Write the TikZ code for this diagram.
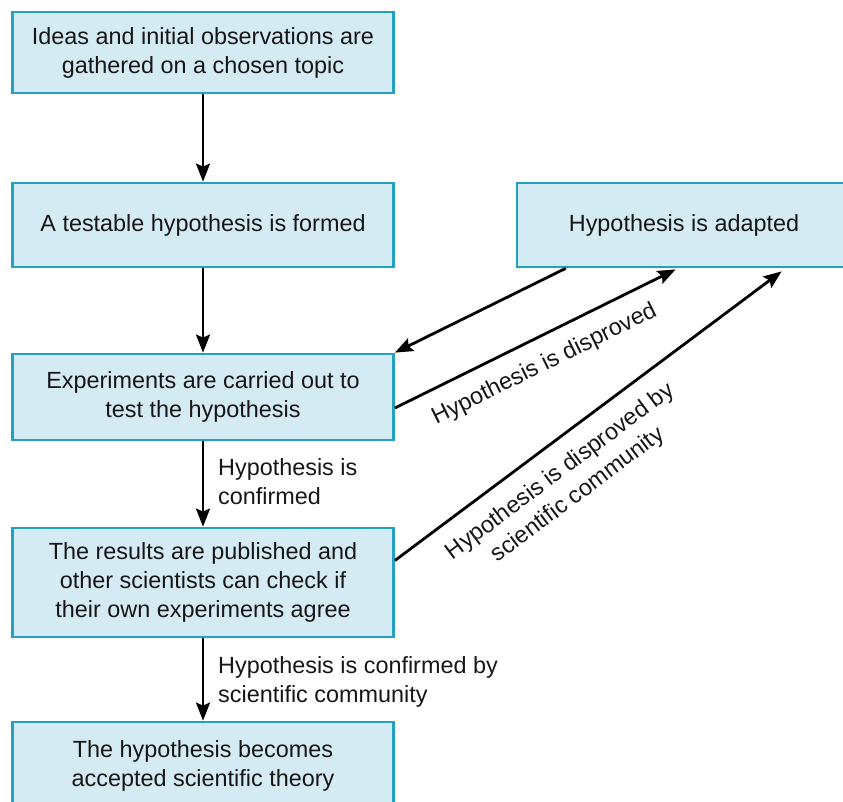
\documentclass[tikz,border=0pt]{standalone}
\usepackage{fontspec}
\setmainfont{Liberation Sans}
\usetikzlibrary{arrows.meta,calc}
\definecolor{boxfill}{RGB}{213,235,243}
\definecolor{boxline}{RGB}{34,162,190}
\definecolor{txt}{RGB}{22,22,22}
\begin{document}
\begin{tikzpicture}[x=1pt,y=-1pt,
  box/.style={draw=boxline, fill=boxfill, line width=2.8pt, minimum width=381pt, align=center, inner sep=0pt, text=txt, font=\fontsize{23.4}{29}\selectfont},
  arr/.style={line width=2.8pt, -{Stealth[length=18pt,width=14pt,inset=3pt]}},
  lbl/.style={text=txt, font=\fontsize{23.4}{29}\selectfont, inner sep=0pt}]
\useasboundingbox (0,0) rectangle (843,801);
\clip (0,0) rectangle (843,801);
\node[box, minimum height=81pt] (ideas) at (203,52.5) {Ideas and initial observations are\\gathered on a chosen topic};
\node[box, minimum height=84pt] (test) at (203,225) {A testable hypothesis is formed};
\node[box, minimum height=84pt, minimum width=342pt] (adapt) at (688,225) {\hspace*{-8pt}Hypothesis is adapted};
\node[box, minimum height=86pt] (exp) at (203,397) {Experiments are carried out to\\test the hypothesis};
\node[box, minimum height=109pt] (res) at (203,582.5) {The results are published and\\other scientists can check if\\their own experiments agree};
\node[box, minimum height=88pt] (theory) at (203,766) {The hypothesis becomes\\accepted scientific theory};

\draw[arr] (ideas.south) -- (test.north);
\draw[arr] (test.south) -- (exp.north);
\draw[arr] (exp.south) -- (res.north);
\draw[arr] (res.south) -- (theory.north);

\node[lbl, anchor=north west, align=left] (l3) at ($(exp.south)+(15,17)$) {Hypothesis is\\confirmed};
\node[lbl, anchor=north west, align=left] (l4) at ($(res.south)+(15,18)$) {Hypothesis is confirmed by\\scientific community};

\draw[arr] ($(adapt.south west)+(50,0)$) -- (exp.north east);
\draw[arr] ($(exp.east)+(0,11)$) -- node[lbl, sloped, pos=0.49, below=15pt] {Hypothesis is disproved} ($(adapt.south west)+(160,1)$);
\draw[arr] ($(res.east)+(0,-22)$) -- node[lbl, sloped, pos=0.385, below=16pt, align=center] {Hypothesis is disproved by\\scientific community} ($(adapt.south west)+(266,3)$);
\end{tikzpicture}
\end{document}
